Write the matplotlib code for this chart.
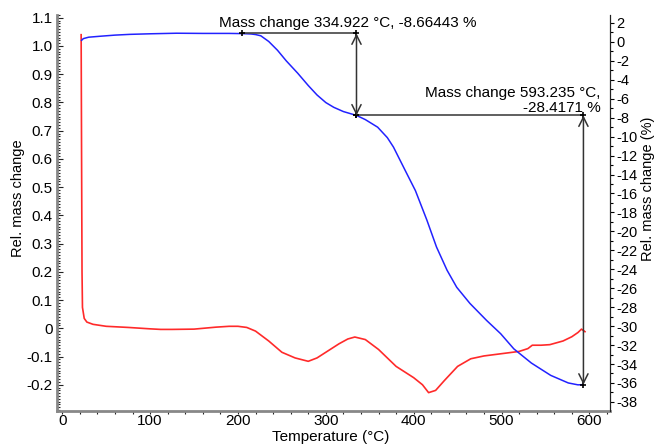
import numpy as np
import matplotlib
matplotlib.use("Agg")
import matplotlib.pyplot as plt
from matplotlib.ticker import MultipleLocator, FuncFormatter

plt.rcParams["font.family"] = ["Liberation Sans", "DejaVu Sans"]
plt.rcParams["font.size"] = 11

# red curve, left axis (Rel. mass change)
red_t = [21.5, 22.0, 22.5, 23.0, 25, 28, 35, 50, 75, 100, 112, 125, 150, 175, 190, 200,
         210, 220, 235, 250, 265, 280, 290, 300, 315, 325, 333, 345, 360, 380, 400,
         410, 417, 425, 435, 450, 465, 480, 500, 520, 530, 535, 545, 555, 570, 580,
         587, 591, 595]
red_v = [1.04, 0.60, 0.20, 0.074, 0.035, 0.022, 0.014, 0.007, 0.003, -0.002, -0.004,
         -0.004, -0.003, 0.004, 0.007, 0.007, 0.003, -0.01, -0.045, -0.085, -0.105,
         -0.117, -0.105, -0.085, -0.055, -0.038, -0.031, -0.04, -0.075, -0.135, -0.175,
         -0.2, -0.228, -0.22, -0.185, -0.135, -0.108, -0.098, -0.09, -0.082, -0.072,
         -0.06, -0.06, -0.058, -0.045, -0.03, -0.015, -0.003, -0.012]

# blue curve, right axis (%)
blue_t = [22, 24, 30, 43, 60, 77, 100, 130, 160, 190, 205, 215, 220, 226, 235, 245, 255,
          268, 280, 290, 300, 309, 320, 335, 345, 359, 370, 377, 390, 402, 415, 426,
          438, 449, 464, 483, 499, 514, 534, 556, 576, 587, 593]
blue_v = [0.17, 0.35, 0.5, 0.6, 0.72, 0.8, 0.86, 0.92, 0.9, 0.9, 0.88, 0.84, 0.78, 0.65,
          0.05, -0.88, -2.0, -3.3, -4.6, -5.6, -6.4, -6.9, -7.35, -7.76, -8.2, -9.0,
          -10.1, -11.1, -13.5, -15.7, -18.8, -21.65, -24.1, -25.9, -27.6, -29.4, -30.8,
          -32.4, -33.9, -35.2, -36.0, -36.2, -36.18]

# mass change steps: start temp, end temp, start level, change
steps = [(205.0, 334.922, 0.9, -8.66443), (334.922, 593.235, 0.9 - 8.66443, -28.4171)]

fig = plt.figure(figsize=(6.55, 4.46), dpi=100)
ax = fig.add_axes([0.087, 0.0785, 0.845, 0.888])
ax2 = ax.twinx()

ax.plot(red_t, red_v, color="#ff2a2a", lw=1.2)
ax2.plot(blue_t, blue_v, color="#2222ff", lw=1.1)

ax.set_xlim(-6, 624)
ax.set_ylim(-0.293, 1.11)
ax2.set_ylim(-38.96, 2.85)

for t0, t1, y0, d in steps:
    y1 = y0 + d
    ax2.plot([t0, t1], [y0, y0], color="#444444", lw=1.2)
    ax2.annotate("", xy=(t1, y1), xytext=(t1, y0),
                 arrowprops=dict(arrowstyle="<->,head_length=0.6,head_width=0.3",
                                 color="#333333", lw=1.1, shrinkA=0, shrinkB=0))
    ax2.plot([t0, t1, t1], [y0, y0, y1], ls="none", marker="+", ms=5, mew=1.2, color="black")

ax2.text(178, 1.55, "Mass change 334.922 °C, -8.66443 %", ha="left", va="baseline")
ax2.text(613, -5.85, "Mass change 593.235 °C,", ha="right", va="baseline")
ax2.text(613, -7.43, "-28.4171 %", ha="right", va="baseline")

ax.spines["top"].set_visible(False)
ax2.spines["top"].set_visible(False)
ax.spines["left"].set_color("#888888")
ax.spines["left"].set_linewidth(2)
ax.spines["bottom"].set_color("#888888")
ax.spines["bottom"].set_linewidth(2)
ax2.spines["right"].set_color("#222222")
ax2.spines["left"].set_visible(False)
ax2.spines["bottom"].set_visible(False)

ax.xaxis.set_major_locator(MultipleLocator(100))
ax.xaxis.set_minor_locator(MultipleLocator(20))
ax.yaxis.set_major_locator(MultipleLocator(0.1))
ax.yaxis.set_minor_locator(MultipleLocator(0.01))
ax.yaxis.set_major_formatter(FuncFormatter(lambda v, p: "0" if abs(v) < 1e-9 else f"{v:.1f}"))
ax.tick_params(axis="y", which="major", direction="in", length=4, width=0.8, color="#222222", pad=3)
ax.tick_params(axis="y", which="minor", direction="in", length=2, width=0.8, color="#222222")
ax.tick_params(axis="x", which="major", direction="out", length=2, width=0.8, color="#222222", pad=0)
ax.tick_params(axis="x", which="minor", direction="out", length=2, width=0.8, color="#222222")

ax2.yaxis.set_major_locator(MultipleLocator(2))
ax2.yaxis.set_minor_locator(MultipleLocator(1))
ax2.yaxis.set_major_formatter(FuncFormatter(lambda v, p: f"{int(round(v))}"))
ax2.tick_params(axis="y", which="major", direction="out", length=3, width=0.8, pad=1,
                labelsize=10.5)
ax2.tick_params(axis="y", which="minor", direction="out", length=2, width=0.8)

ax.set_xlabel("Temperature (°C)", fontsize=11)
ax.xaxis.set_label_coords(0.495, -0.048)
ax.set_ylabel("Rel. mass change", fontsize=10.5)
ax.yaxis.set_label_coords(-0.058, 0.538)
ax2.set_ylabel("Rel. mass change (%)", fontsize=10.5)
ax2.yaxis.set_label_coords(1.056, 0.56)

fig.savefig("out.png", dpi=100)
